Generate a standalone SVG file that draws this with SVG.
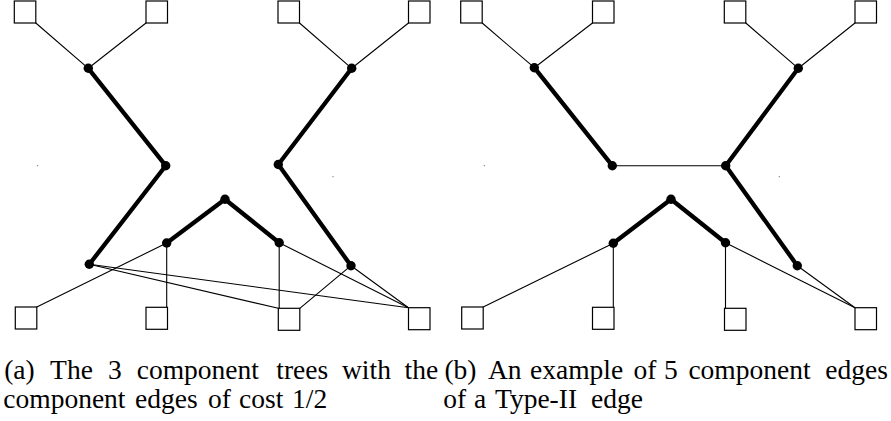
<svg xmlns="http://www.w3.org/2000/svg" width="891" height="421" viewBox="0 0 891 421">
<style>
.sq{fill:#fff;stroke:#000;stroke-width:1.2}
.thin{stroke:#000;stroke-width:1.1;fill:none;stroke-linecap:round}
.thick{stroke:#000;stroke-width:4.3;fill:none;stroke-linecap:round;stroke-linejoin:round}
.dot{fill:#000}
.speck{fill:#555}
.cap{font-family:"Liberation Serif","DejaVu Serif",serif;font-size:27.5px;fill:#000}
</style>
<rect width="891" height="421" fill="#fff"/>
<g id="connectors">
<!-- panel (a) thin -->
<line class="thin" x1="88.3" y1="68.3" x2="35.8" y2="23"/>
<line class="thin" x1="88.3" y1="68.3" x2="146" y2="23"/>
<line class="thin" x1="351.7" y1="68.3" x2="299.5" y2="23"/>
<line class="thin" x1="351.7" y1="68.3" x2="408.5" y2="23"/>
<line class="thin" x1="166.7" y1="243" x2="36.8" y2="307"/>
<line class="thin" x1="166.7" y1="243" x2="166.7" y2="307.3"/>
<line class="thin" x1="279.2" y1="242.7" x2="279.2" y2="308.3"/>
<line class="thin" x1="279.2" y1="242.7" x2="408.5" y2="307.7"/>
<line class="thin" x1="351" y1="265.7" x2="408.5" y2="307.7"/>
<line class="thin" x1="351" y1="265.7" x2="299.8" y2="308.3"/>
<line class="thin" x1="89.3" y1="264.3" x2="278.3" y2="308.3"/>
<line class="thin" x1="89.3" y1="264.3" x2="408.5" y2="307.7"/>
<!-- panel (a) thick -->
<polyline class="thick" points="88.3,68.3 165.7,165.7 89.3,264.3"/>
<polyline class="thick" points="351.7,68.3 278.3,164.5 351,265.7"/>
<polyline class="thick" points="166.7,243 225,199.3 279.2,242.7"/>
<!-- panel (b) thin -->
<line class="thin" x1="534.3" y1="67.7" x2="482.2" y2="23"/>
<line class="thin" x1="534.3" y1="67.7" x2="592.5" y2="23"/>
<line class="thin" x1="798.3" y1="68.3" x2="745.8" y2="23"/>
<line class="thin" x1="798.3" y1="68.3" x2="855" y2="23"/>
<line class="thin" x1="612.3" y1="165.7" x2="725.7" y2="165.7"/>
<line class="thin" x1="613.3" y1="243.3" x2="483.2" y2="307"/>
<line class="thin" x1="613.3" y1="243.3" x2="613.3" y2="307.3"/>
<line class="thin" x1="725.5" y1="242.7" x2="725.5" y2="308.3"/>
<line class="thin" x1="725.5" y1="242.7" x2="855" y2="307.7"/>
<line class="thin" x1="797.3" y1="265.7" x2="855" y2="307.7"/>
<!-- panel (b) thick -->
<polyline class="thick" points="534.3,67.7 612.3,165.7"/>
<polyline class="thick" points="798.3,68.3 725.7,165.7 797.3,265.7"/>
<polyline class="thick" points="613.3,243.3 671,199.3 725.5,242.7"/>
</g>
<!-- panel (a) terminals -->
<g id="a-t1"><rect class="sq" x="14.3" y="1" width="21.5" height="22"/></g>
<g id="a-t2"><rect class="sq" x="146" y="1" width="21.5" height="22"/></g>
<g id="a-t3"><rect class="sq" x="278" y="1" width="21.5" height="22"/></g>
<g id="a-t4"><rect class="sq" x="408.5" y="1" width="21.5" height="22"/></g>
<g id="a-b1"><rect class="sq" x="15.3" y="307" width="21.5" height="22"/></g>
<g id="a-b2"><rect class="sq" x="146" y="307.3" width="21.5" height="22"/></g>
<g id="a-b3"><rect class="sq" x="278.3" y="308.3" width="21.5" height="22"/></g>
<g id="a-b4"><rect class="sq" x="408.5" y="307.7" width="21.5" height="22"/></g>
<!-- panel (a) steiner nodes -->
<g id="a-n1"><circle class="dot" cx="88.3" cy="68.3" r="4.7"/></g>
<g id="a-n2"><circle class="dot" cx="165.7" cy="165.7" r="4.7"/></g>
<g id="a-n3"><circle class="dot" cx="89.3" cy="264.3" r="4.7"/></g>
<g id="a-n4"><circle class="dot" cx="351.7" cy="68.3" r="4.7"/></g>
<g id="a-n5"><circle class="dot" cx="278.3" cy="164.5" r="4.7"/></g>
<g id="a-n6"><circle class="dot" cx="351" cy="265.7" r="4.7"/></g>
<g id="a-n7"><circle class="dot" cx="225" cy="199.3" r="4.7"/></g>
<g id="a-n8"><circle class="dot" cx="166.7" cy="243" r="4.7"/></g>
<g id="a-n9"><circle class="dot" cx="279.2" cy="242.7" r="4.7"/></g>
<!-- panel (b) terminals -->
<g id="b-t1"><rect class="sq" x="460.7" y="1" width="21.5" height="22"/></g>
<g id="b-t2"><rect class="sq" x="592.5" y="1" width="21.5" height="22"/></g>
<g id="b-t3"><rect class="sq" x="724.3" y="1" width="21.5" height="22"/></g>
<g id="b-t4"><rect class="sq" x="855" y="1" width="21.5" height="22"/></g>
<g id="b-b1"><rect class="sq" x="461.7" y="307" width="21.5" height="22"/></g>
<g id="b-b2"><rect class="sq" x="592.5" y="307.3" width="21.5" height="22"/></g>
<g id="b-b3"><rect class="sq" x="724.5" y="308.3" width="21.5" height="22"/></g>
<g id="b-b4"><rect class="sq" x="855" y="307.7" width="21.5" height="22"/></g>
<!-- panel (b) steiner nodes -->
<g id="b-n1"><circle class="dot" cx="534.3" cy="67.7" r="4.7"/></g>
<g id="b-n2"><circle class="dot" cx="612.3" cy="165.7" r="4.7"/></g>
<g id="b-n4"><circle class="dot" cx="798.3" cy="68.3" r="4.7"/></g>
<g id="b-n5"><circle class="dot" cx="725.7" cy="165.7" r="4.7"/></g>
<g id="b-n6"><circle class="dot" cx="797.3" cy="265.7" r="4.7"/></g>
<g id="b-n7"><circle class="dot" cx="671" cy="199.3" r="4.7"/></g>
<g id="b-n8"><circle class="dot" cx="613.3" cy="243.3" r="4.7"/></g>
<g id="b-n9"><circle class="dot" cx="725.5" cy="242.7" r="4.7"/></g>
<!-- specks -->
<g id="specks">
<rect class="speck" x="37.2" y="165.2" width="1" height="1"/>
<rect class="speck" x="332.5" y="176.2" width="1" height="1"/>
<rect class="speck" x="483.8" y="165.2" width="1" height="1"/>
<rect class="speck" x="778.8" y="176.2" width="1" height="1"/>
</g>
<g id="caption-a">
<text class="cap" y="379"><tspan x="4.2">(a)</tspan> <tspan x="50.1">The</tspan> <tspan x="108">3</tspan> <tspan x="136.7">component</tspan> <tspan x="276.3">trees</tspan> <tspan x="342">with</tspan> <tspan x="404.6">the</tspan></text>
<text class="cap" y="408"><tspan x="3.3">component</tspan> <tspan x="135">edges</tspan> <tspan x="208">of</tspan> <tspan x="239">cost</tspan> <tspan x="292">1/2</tspan></text>
</g>
<g id="caption-b">
<text class="cap" y="379"><tspan x="444.4">(b)</tspan> <tspan x="488">An</tspan> <tspan x="530">example</tspan> <tspan x="633.4">of</tspan> <tspan x="664">5</tspan> <tspan x="688.4">component</tspan> <tspan x="825.3">edges</tspan></text>
<text class="cap" y="408"><tspan x="443.3">of</tspan> <tspan x="474">a</tspan> <tspan x="495">Type-II</tspan> <tspan x="591">edge</tspan></text>
</g>
</svg>
